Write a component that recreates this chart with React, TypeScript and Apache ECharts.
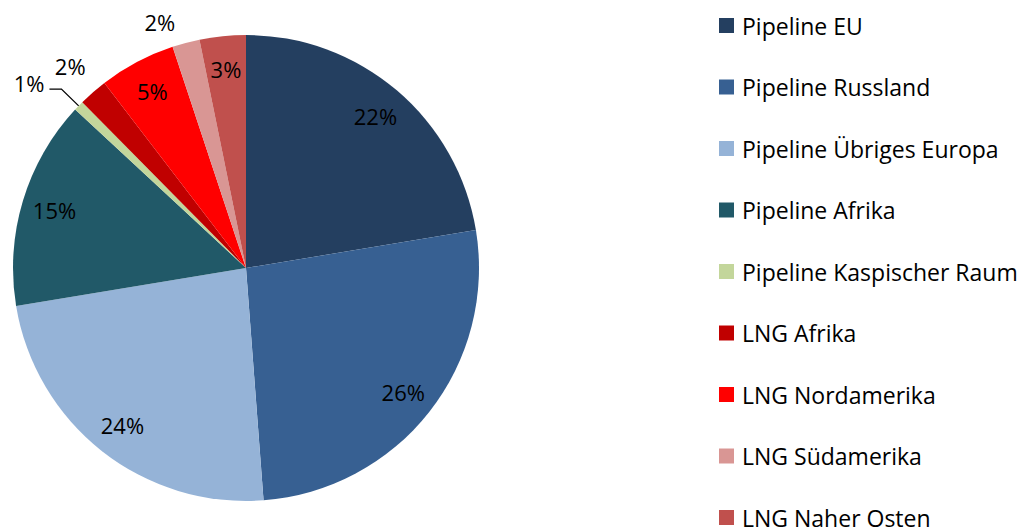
import React, { useEffect, useRef } from "react";
import * as echarts from "echarts";

const categories = [
  "Pipeline EU",
  "Pipeline Russland",
  "Pipeline Übriges Europa",
  "Pipeline Afrika",
  "Pipeline Kaspischer Raum",
  "LNG Afrika",
  "LNG Nordamerika",
  "LNG Südamerika",
  "LNG Naher Osten",
];
const values = [22.4, 26.4, 23.6, 14.5, 0.7, 2.0, 5.3, 1.9, 3.2];
const colors = [
  "#243F60",
  "#376092",
  "#95B3D7",
  "#215968",
  "#C3D69B",
  "#C00000",
  "#FF0000",
  "#D99694",
  "#C0504D",
];
// which slices carry their label outside the pie
const outsideLabel = [false, false, false, false, true, true, false, true, false];
const withLeader = [false, false, false, false, true, false, false, false, false];

const FONT = "Open Sans";

export default function App() {
  const ref = useRef<HTMLDivElement>(null);
  useEffect(() => {
    if (!ref.current) return;
    const chart = echarts.init(ref.current, undefined, { renderer: "svg" });
    const fmt = (p: any) => Math.round(p.percent) + "%";
    const mainData = categories.map((name, i) => ({
      name,
      value: values[i],
      itemStyle: { color: colors[i] },
      label: {
        show: outsideLabel[i],
        position: "outside",
      },
      labelLine: {
        show: withLeader[i],
        length: withLeader[i] ? 24 : 22,
        length2: withLeader[i] ? 12 : 0,
      },
    }));
    const overlayData = categories.map((name, i) => ({
      name,
      value: values[i],
      itemStyle: { color: "rgba(0,0,0,0)" },
      label: { show: !outsideLabel[i] },
    }));
    chart.setOption({
      animation: false,
      legend: {
        orient: "vertical",
        left: 719,
        top: 14,
        height: 700,
        padding: 0,
        itemWidth: 15,
        itemHeight: 15,
        itemGap: 38.5,
        icon: "rect",
        selectedMode: false,
        textStyle: {
          fontFamily: FONT,
          fontSize: 23,
          lineHeight: 20,
          color: "#000",
          padding: [0, 0, 0, 3],
        },
        data: categories.map((name, i) => ({
          name,
          itemStyle: { color: colors[i] },
        })),
      },
      series: [
        {
          type: "pie",
          center: [246, 268],
          radius: 233,
          startAngle: 90,
          clockwise: true,
          avoidLabelOverlap: false,
          label: {
            formatter: fmt,
            fontFamily: FONT,
            fontSize: 22,
            color: "#000",
          },
          labelLine: {
            lineStyle: { color: "#000", width: 1.3 },
          },
          labelLayout: (p: any) => {
            if (p.dataIndex === 5) return { dx: 12, dy: -10 };
            if (p.dataIndex === 4) return { dy: -6 };
            return {};
          },
          emphasis: { disabled: true },
          data: mainData,
        },
        {
          type: "pie",
          center: [246, 268],
          radius: [161, 233],
          startAngle: 90,
          clockwise: true,
          silent: true,
          avoidLabelOverlap: false,
          label: {
            position: "inside",
            formatter: fmt,
            fontFamily: FONT,
            fontSize: 22,
            color: "#000",
          },
          labelLine: { show: false },
          emphasis: { disabled: true },
          data: overlayData,
        },
      ],
    });
    return () => chart.dispose();
  }, []);
  return (
    <div
      ref={ref}
      style={{ position: "fixed", left: 0, top: 0, width: 1023, height: 528, background: "#fff" }}
    />
  );
}
